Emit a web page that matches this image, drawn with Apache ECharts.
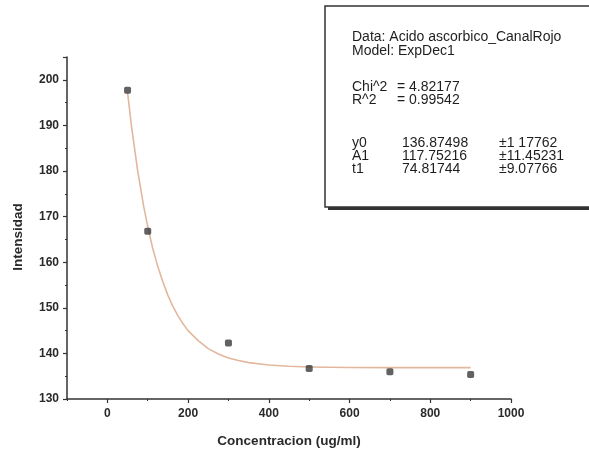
<!DOCTYPE html>
<html>
<head>
<meta charset="utf-8">
<script src="https://cdn.jsdelivr.net/npm/echarts@6/dist/echarts.min.js"></script>
<style>
html,body{margin:0;padding:0;background:#fff;}
#chart{width:589px;height:453px;}
</style>
</head>
<body>
<div id="chart"></div>
<script>
// Measured data points
var concentrations = [50, 100, 300, 500, 700, 900];
var intensity = [197.7, 166.8, 142.3, 136.7, 136.0, 135.4];

// ExpDec1 fit curve values (y0=136.87498, A1=117.75216, t1=74.81744), read at these x
var fitX = [50, 60, 75, 90, 100, 112, 125, 137, 150, 162, 175, 187, 200, 225, 250, 275, 300, 325, 350, 400, 450, 500, 600, 700, 800, 900];
var fitY = [197.23, 189.69, 180.09, 172.24, 167.82, 163.17, 159.03, 155.81, 152.73, 150.37, 148.23, 146.56, 145.00, 142.80, 141.04, 139.88, 139.01, 138.43, 137.97, 137.44, 137.17, 137.02, 136.91, 136.88, 136.88, 136.875];

// Tick labels
var xTickLabels = [0, 200, 400, 600, 800, 1000];
var yTickLabels = [130, 140, 150, 160, 170, 180, 190, 200];

// Fit report text
var reportHeader = ['Data: Acido ascorbico_CanalRojo', 'Model: ExpDec1'];
var reportStats = [['Chi^2', '= 4.82177'], ['R^2', '= 0.99542']];
var reportParams = [['y0', '136.87498', '\u00b11 17762'], ['A1', '117.75216', '\u00b111.45231'], ['t1', '74.81744', '\u00b19.07766']];

var chart = echarts.init(document.getElementById('chart'), null, {renderer: 'canvas'});

var points = concentrations.map(function (c, i) { return [c, intensity[i]]; });
var fit = fitX.map(function (x, i) { return [x, fitY[i]]; });

var txtFont = {fontFamily: 'Liberation Sans, Arial, sans-serif', fontSize: 14, fill: '#1e1e1e'};
var graphics = [
  {type: 'rect', shape: {x: 328, y: 9, width: 300, height: 201}, style: {fill: '#333'}, z: 100},
  {type: 'rect', shape: {x: 325, y: 6, width: 300, height: 201}, style: {fill: '#fff', stroke: '#333', lineWidth: 1.5}, z: 101}
];
var lineY = [37, 51];
reportHeader.forEach(function (t, i) {
  graphics.push({type: 'text', x: 352, y: lineY[i], z: 102, style: Object.assign({text: t, verticalAlign: 'middle'}, txtFont)});
});
var statY = [87, 100];
reportStats.forEach(function (r, i) {
  graphics.push({type: 'text', x: 352, y: statY[i], z: 102, style: Object.assign({text: r[0], verticalAlign: 'middle'}, txtFont)});
  graphics.push({type: 'text', x: 397, y: statY[i], z: 102, style: Object.assign({text: r[1], verticalAlign: 'middle'}, txtFont)});
});
var parY = [143, 156, 169];
reportParams.forEach(function (r, i) {
  graphics.push({type: 'text', x: 352, y: parY[i], z: 102, style: Object.assign({text: r[0], verticalAlign: 'middle'}, txtFont)});
  graphics.push({type: 'text', x: 402, y: parY[i], z: 102, style: Object.assign({text: r[1], verticalAlign: 'middle'}, txtFont)});
  graphics.push({type: 'text', x: 499, y: parY[i], z: 102, style: Object.assign({text: r[2], verticalAlign: 'middle'}, txtFont)});
});

var labelFont = {fontFamily: 'Liberation Sans, Arial, sans-serif', fontSize: 12, fontWeight: 'bold', color: '#2a2a2a'};
var titleFont = {fontFamily: 'Liberation Sans, Arial, sans-serif', fontSize: 13.5, fontWeight: 'bold', color: '#2a2a2a'};

chart.setOption({
  animation: false,
  backgroundColor: '#fff',
  grid: {left: 67, right: 78, top: 57, bottom: 53, containLabel: false},
  xAxis: [{
    type: 'value', min: -100, max: 1000,
    name: 'Concentracion (ug/ml)', nameLocation: 'middle', nameGap: 35,
    nameTextStyle: titleFont,
    axisLine: {show: true, onZero: false, lineStyle: {color: '#333', width: 1.5}},
    axisTick: {show: true, length: 4, customValues: xTickLabels, lineStyle: {color: '#333', width: 1.2}},
    axisLabel: Object.assign({customValues: xTickLabels, margin: 9, formatter: function (v) { return String(v); }}, labelFont),
    splitLine: {show: false}
  }, {
    type: 'value', min: -100, max: 1000, interval: 100, position: 'bottom',
    axisLine: {show: false},
    axisTick: {show: true, length: 2, lineStyle: {color: '#333', width: 1}},
    axisLabel: {show: false},
    splitLine: {show: false}
  }],
  yAxis: {
    type: 'value', min: 130, max: 205, interval: 10,
    name: 'Intensidad', nameLocation: 'middle', nameGap: 42,
    nameTextStyle: Object.assign({padding: [0, 18, 0, 0]}, titleFont),
    axisLine: {show: true, onZero: false, lineStyle: {color: '#333', width: 1.5}},
    axisTick: {show: true, length: 4, lineStyle: {color: '#333', width: 1.2}},
    minorTick: {show: true, splitNumber: 2, length: 2, lineStyle: {color: '#333'}},
    axisLabel: Object.assign({margin: 8, formatter: function (v) { return yTickLabels.indexOf(v) >= 0 ? String(v) : ''; }}, labelFont),
    splitLine: {show: false}
  },
  series: [{
    type: 'line', xAxisIndex: 0, data: fit, smooth: false, showSymbol: false,
    lineStyle: {color: '#e3b79d', width: 1.6, join: 'round'}, z: 2
  }, {
    type: 'scatter', xAxisIndex: 0, data: points, symbol: 'roundRect', symbolSize: 7,
    itemStyle: {color: '#3b3b3b'}, z: 3
  }],
  graphic: graphics
});
</script>
</body>
</html>
